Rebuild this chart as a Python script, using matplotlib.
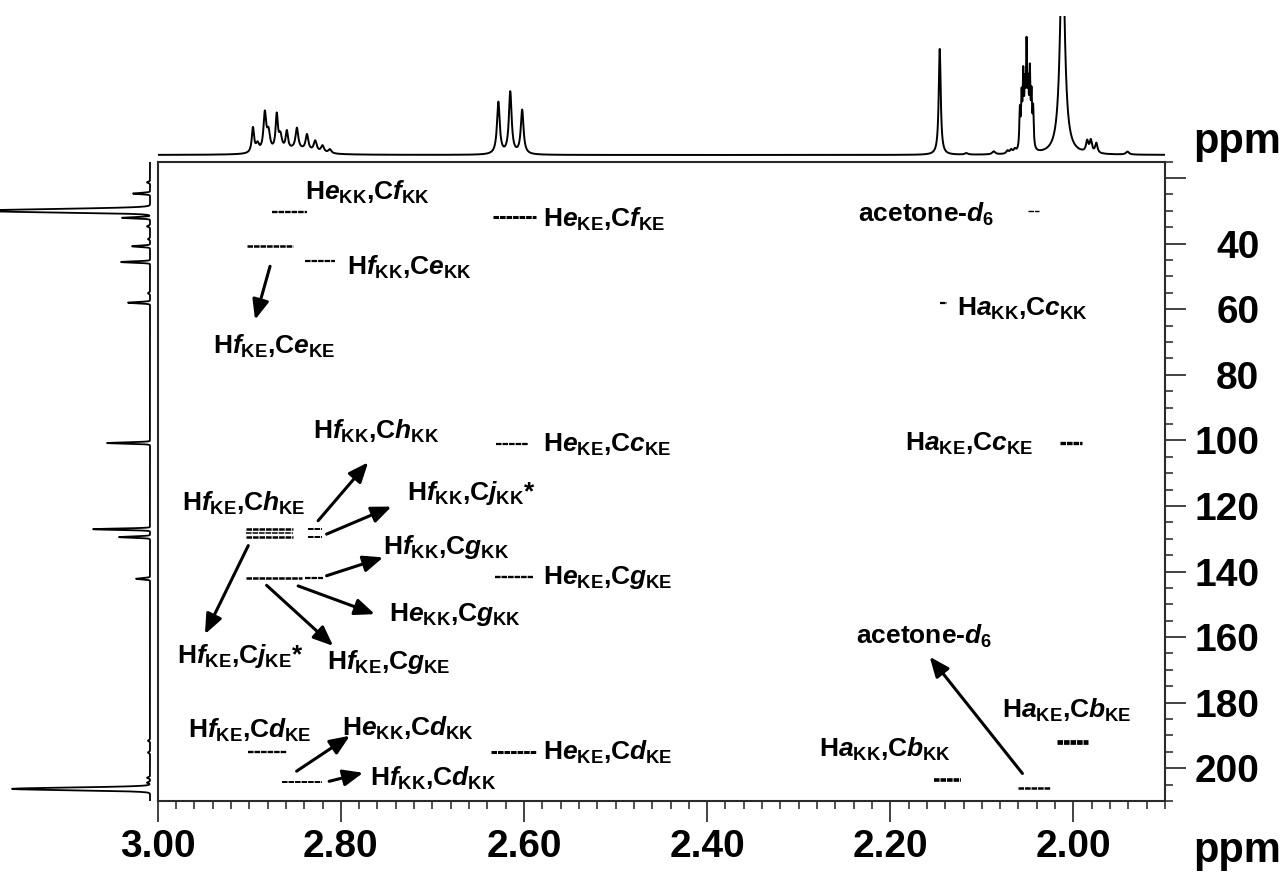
import numpy as np
import matplotlib
matplotlib.use("Agg")
import matplotlib.pyplot as plt
from matplotlib import font_manager as fm
from matplotlib.patches import ArrowStyle
from matplotlib.ticker import MultipleLocator, FuncFormatter, FormatStrFormatter

# ---------------- data ----------------
# 1H projection (F2, top trace): line positions (ppm), heights, half-widths (ppm)
h_pos = [2.896, 2.891, 2.883, 2.879, 2.870, 2.866, 2.859, 2.848, 2.837, 2.828, 2.820, 2.812, 2.850,
         2.628, 2.615, 2.602,
         2.146, 2.117, 2.087, 2.072, 2.068, 2.064,
         2.0585, 2.0566, 2.0548, 2.0530, 2.0512, 2.0494, 2.0476, 2.0458, 2.0440,
         2.012, 1.985, 1.981, 1.975, 1.941]
h_amp = [25, 8, 38, 18, 35, 14, 18, 21, 16, 11, 7, 4, 5,
         52, 62, 44,
         106, 1.5, 3, 3, 3.5, 3.5,
         38, 48, 68, 52, 96, 52, 70, 48, 38,
         220, 11, 12, 10, 3]
h_hw = [0.0015, 0.002, 0.0018, 0.002, 0.0015, 0.002, 0.0015, 0.0018, 0.0018, 0.002, 0.002, 0.002, 0.02,
        0.0018, 0.0018, 0.0018,
        0.0013, 0.002, 0.002, 0.0015, 0.0015, 0.0015,
        0.0007, 0.0007, 0.0007, 0.0007, 0.0007, 0.0007, 0.0007, 0.0007, 0.0007,
        0.0030, 0.0015, 0.0015, 0.0015, 0.002]

# 13C projection (F1, left trace): positions (ppm), heights, widths (ppm)
c_pos = [21.3, 24.7, 29.8, 30.3, 32.1, 34.7, 38.6, 40.8, 45.6, 55.1, 58.0, 100.8,
         127.1, 129.5, 142.2, 191.6, 195.2, 202.9, 204.4, 206.3]
c_amp = [3, 17, 138, 60, 28, 3, 2, 18, 29, 2, 22, 43,
         57, 31, 14, 2, 2, 3, 3, 138]
c_hw = [0.2, 0.2, 0.45, 0.35, 0.2, 0.2, 0.2, 0.2, 0.2, 0.2, 0.2, 0.2,
        0.2, 0.2, 0.2, 0.2, 0.2, 0.2, 0.2, 0.4]

# HMBC cross peaks: 1H extent (ppm) and 13C shift (ppm)
pk_h_lo = [2.8756, 2.9029, 2.8393, 2.6338, 2.0501, 2.1459, 2.0144, 2.6301,
           2.9037, 2.9037, 2.9037, 2.8357, 2.8357, 2.9037, 2.8393, 2.6318,
           2.9011, 2.8647, 2.6356, 2.0180, 2.1522, 2.0600]
pk_h_hi = [2.8374, 2.8520, 2.8065, 2.5865, 2.0378, 2.1386, 1.9911, 2.5956,
           2.8520, 2.8520, 2.8520, 2.8211, 2.8211, 2.8429, 2.8193, 2.5902,
           2.8592, 2.8211, 2.5865, 1.9837, 2.1231, 2.0261]
pk_c = [30.3, 40.8, 45.3, 32.0, 30.0, 58.2, 100.8, 101.1,
        126.9, 128.2, 129.6, 126.9, 129.4, 142.1, 142.1, 141.8,
        195.0, 204.2, 195.0, 192.0, 203.5, 206.0]
# line weight of each cross peak (pt)
pk_lw = [1.7, 1.8, 1.6, 2.2, 1.0, 1.6, 2.4, 1.6,
         1.8, 1.1, 1.8, 1.4, 1.4, 1.8, 1.6, 1.7,
         1.7, 1.4, 2.2, 3.4, 2.6, 1.8]


def assign(h, hs, c, cs):
    return (r"$\mathrm{H}\mathit{%s}_{\mathrm{%s}}{,}\mathrm{C}\mathit{%s}_{\mathrm{%s}}$"
            % (h, hs, c, cs))


ACETONE = r"acetone-$\mathit{d}_{\mathrm{6}}$"

lab_text = [assign("e", "KK", "f", "KK"), assign("f", "KK", "e", "KK"), assign("f", "KE", "e", "KE"),
            assign("e", "KE", "f", "KE"), ACETONE, assign("a", "KK", "c", "KK"),
            assign("a", "KE", "c", "KE"), assign("e", "KE", "c", "KE"), assign("f", "KK", "h", "KK"),
            assign("f", "KE", "h", "KE"), assign("f", "KK", "j", "KK") + "*", assign("f", "KK", "g", "KK"),
            assign("e", "KE", "g", "KE"), assign("e", "KK", "g", "KK"), assign("f", "KE", "j", "KE") + "*",
            assign("f", "KE", "g", "KE"), ACETONE, assign("a", "KE", "b", "KE"),
            assign("a", "KK", "b", "KK"), assign("f", "KE", "d", "KE"), assign("e", "KK", "d", "KK"),
            assign("f", "KK", "d", "KK"), assign("e", "KE", "d", "KE")]
lab_h = [2.8393, 2.7938, 2.9393, 2.5793, 2.2355, 2.1274, 2.1839, 2.5793, 2.8309,
         2.9738, 2.7277, 2.7538, 2.5793, 2.7473, 2.9793, 2.8156, 2.2370, 2.0777,
         2.2775, 2.9666, 2.7992, 2.7684, 2.5793]
lab_c = [26.7, 49.6, 73.6, 34.9, 33.2, 62.0, 103.1, 103.6, 99.5,
         121.5, 118.2, 134.7, 143.9, 155.1, 167.8, 169.8, 162.2, 184.7,
         196.6, 190.7, 190.2, 205.5, 197.3]

# assignment arrows: tail (h0, c0) -> head (h1, c1)
arr_h0 = [2.8773, 2.8248, 2.8156, 2.8156, 2.8466, 2.8811, 2.9011, 2.8483, 2.8128, 2.0557]
arr_c0 = [46.9, 124.5, 128.6, 141.3, 144.4, 144.2, 132.1, 200.9, 204.0, 201.6]
arr_h1 = [2.8937, 2.7702, 2.7447, 2.7538, 2.7629, 2.8084, 2.9484, 2.7902, 2.7757, 2.1570]
arr_c1 = [63.2, 106.7, 120.2, 135.7, 153.0, 162.7, 159.1, 190.1, 201.4, 166.0]

x_major = 0.20
y_major = 20
y_first_label = 40

# ---------------- fonts ----------------
names = {f.name for f in fm.fontManager.ttflist}
BASE = "Liberation Sans" if "Liberation Sans" in names else "DejaVu Sans"
if "Liberation Sans Narrow" in names:
    XFONT, XSIZE = "Liberation Sans Narrow", 31
else:
    XFONT, XSIZE = BASE, 28

plt.rcParams["font.family"] = [BASE, "DejaVu Sans"]
plt.rcParams["font.weight"] = "bold"
plt.rcParams["mathtext.fontset"] = "custom"
plt.rcParams["mathtext.rm"] = BASE + ":bold"
plt.rcParams["mathtext.bf"] = BASE + ":bold"
plt.rcParams["mathtext.it"] = BASE + ":italic:bold"
plt.rcParams["mathtext.default"] = "it"
plt.rcParams["lines.scale_dashes"] = False

W, H = 1283, 872
fig = plt.figure(figsize=(W / 100, H / 100), dpi=100)


def frac(x0, y0, x1, y1):
    return [x0 / W, 1 - y1 / H, (x1 - x0) / W, (y1 - y0) / H]


# ---------------- main 2D panel ----------------
ax = fig.add_axes(frac(157.7, 161.7, 1165, 801))
ax.set_xlim(3.00, 1.90)
ax.set_ylim(210, 15)

for lo, hi, c, lw in zip(pk_h_lo, pk_h_hi, pk_c, pk_lw):
    ax.plot([lo, hi], [c, c], color="black", lw=lw, linestyle=(0, (4.0, 0.7)),
            dash_capstyle="butt", solid_capstyle="butt")

for s, h, c in zip(lab_text, lab_h, lab_c):
    ax.text(h, c, s, fontsize=19, fontweight="bold", ha="left", va="baseline")

astyle = ArrowStyle("-|>", head_length=0.6, head_width=0.25)
for h0, c0, h1, c1 in zip(arr_h0, arr_c0, arr_h1, arr_c1):
    ax.annotate("", xy=(h1, c1), xytext=(h0, c0),
                arrowprops=dict(arrowstyle=astyle, mutation_scale=20, lw=2.2,
                                color="black", shrinkA=0, shrinkB=0))

ax.xaxis.set_major_locator(MultipleLocator(x_major))
ax.xaxis.set_minor_locator(MultipleLocator(x_major / 10))
ax.xaxis.set_major_formatter(FormatStrFormatter("%.2f"))
ax.yaxis.set_major_locator(MultipleLocator(y_major))
ax.yaxis.set_minor_locator(MultipleLocator(y_major / 4))
ax.yaxis.set_major_formatter(FuncFormatter(lambda v, _: "%d" % v if v >= y_first_label else ""))
ax.yaxis.tick_right()
ax.tick_params(axis="x", which="both", bottom=True, top=False, direction="out")
ax.tick_params(axis="y", which="both", right=True, left=False, direction="out")
ax.tick_params(which="major", length=15, width=1.2, color="#222222")
ax.tick_params(which="minor", length=5.4, width=1.1, color="#222222")
ax.tick_params(axis="x", which="major", pad=5)
ax.tick_params(axis="y", which="major", pad=53)
for t in ax.get_xticklabels():
    t.set_fontfamily(XFONT)
    t.set_fontsize(XSIZE)
    t.set_fontweight("bold")
for t in ax.get_yticklabels():
    t.set_fontsize(28)
    t.set_fontweight("bold")
    t.set_horizontalalignment("right")
for sp in ax.spines.values():
    sp.set_color("#2a2a2a")
    sp.set_linewidth(1.5)

fig.text(1237 / W, 1 - 862 / H, "ppm", fontfamily=XFONT, fontsize=XSIZE + 2,
         fontweight="bold", ha="center", va="baseline")

# ---------------- 1H trace on top ----------------
axh = fig.add_axes(frac(157.7, 16, 1165, 158))
hx = np.linspace(3.00, 1.90, 12000)
hy = np.zeros_like(hx)
for p, a, w in zip(h_pos, h_amp, h_hw):
    hy += a / (1 + ((hx - p) / w) ** 2)
axh.plot(hx, hy, color="black", lw=1.4)
axh.set_xlim(3.00, 1.90)
axh.set_ylim(-3, 139)
axh.axis("off")
fig.text(1237 / W, 1 - 153 / H, "ppm", fontfamily=XFONT, fontsize=XSIZE + 2,
         fontweight="bold", ha="center", va="baseline")

# ---------------- 13C trace on the left ----------------
axc = fig.add_axes(frac(0, 161.7, 151, 801))
cy = np.linspace(15, 210, 8000)
cx = np.zeros_like(cy)
for p, a, w in zip(c_pos, c_amp, c_hw):
    cx += a * np.exp(-0.5 * ((cy - p) / w) ** 2)
axc.plot(cx, cy, color="black", lw=1.3)
axc.set_ylim(210, 15)
axc.set_xlim(150, -1)
axc.axis("off")

fig.savefig("out.png", dpi=100)
